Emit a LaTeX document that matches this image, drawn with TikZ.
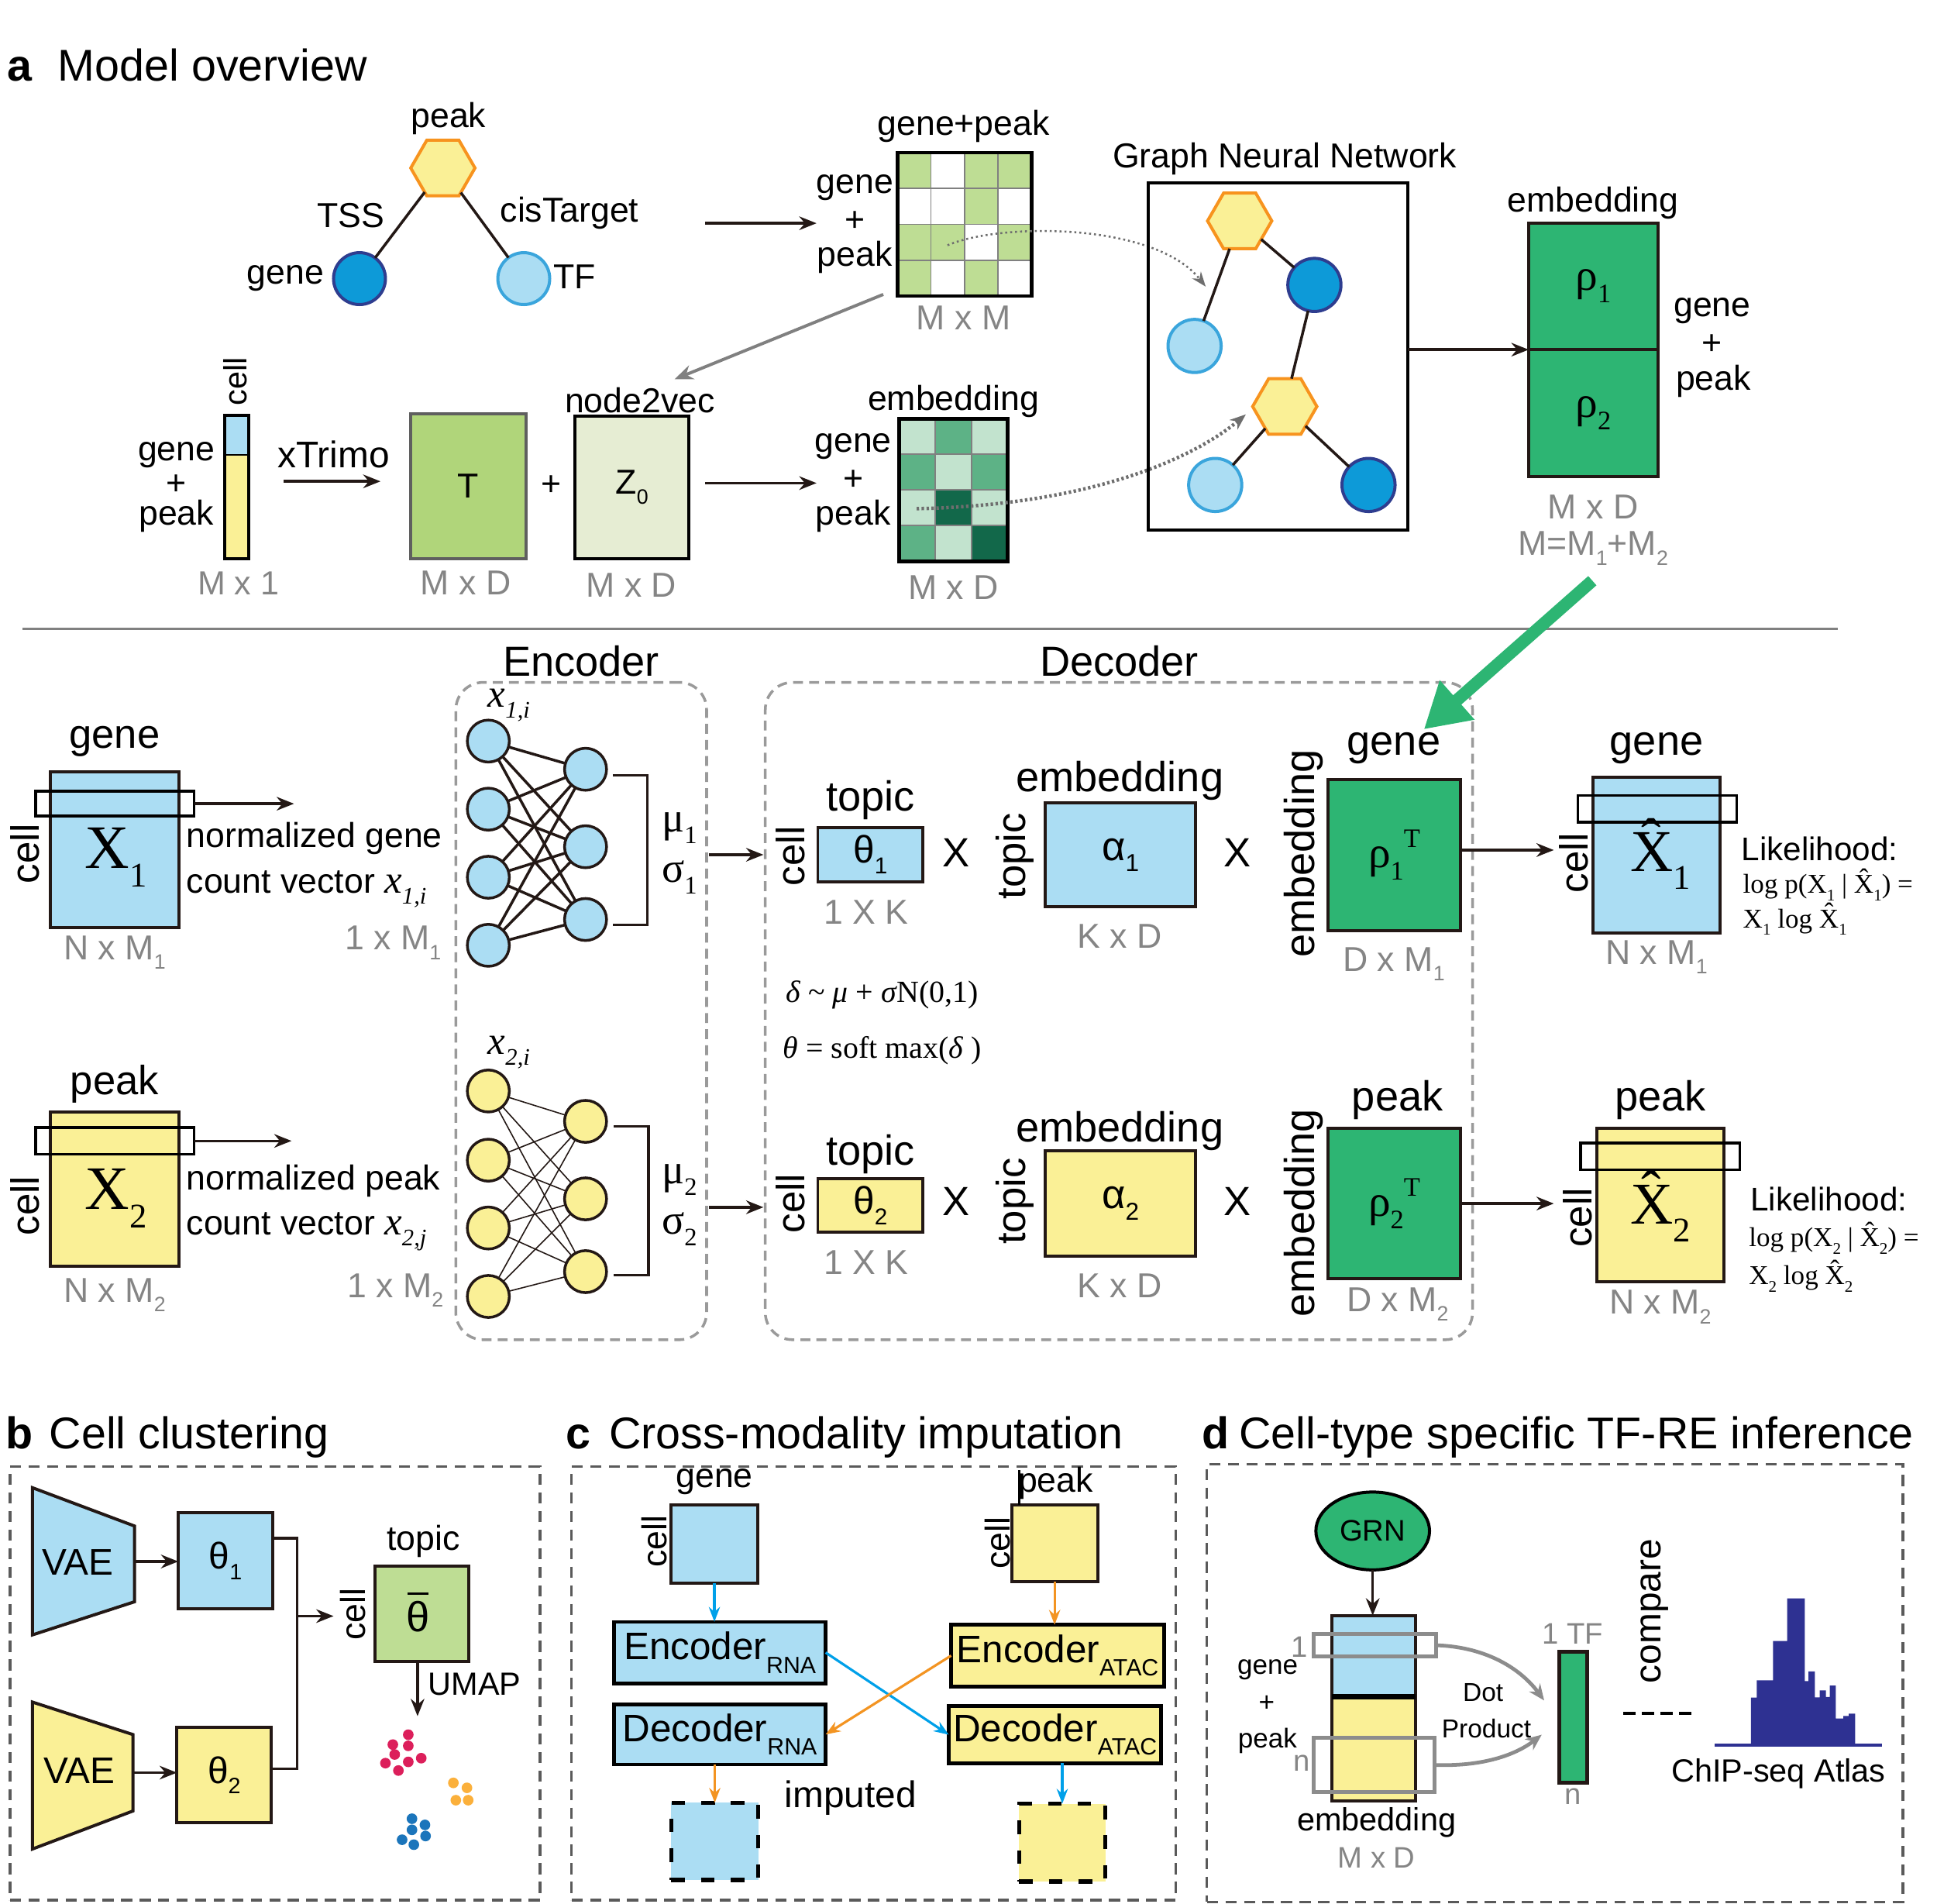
\documentclass[tikz,border=0pt]{standalone}
\usepackage{fontspec}
\usepackage{graphicx}
\setmainfont{Liberation Sans}
\newfontfamily\tms{Liberation Serif}
\usetikzlibrary{arrows.meta,shapes.geometric,calc}
\definecolor{lblue}{HTML}{ABDDF3}
\definecolor{lyel}{HTML}{FAF096}
\definecolor{dgreen}{HTML}{2DB573}
\definecolor{mgreen}{HTML}{BEDD94}
\definecolor{tgreen}{HTML}{B0D57A}
\definecolor{zgreen}{HTML}{E6EDD3}
\definecolor{nblue}{HTML}{0D9AD8}
\definecolor{nbluedk}{HTML}{2E3D8F}
\definecolor{nlstroke}{HTML}{3AA5DC}
\definecolor{hexor}{HTML}{F7931E}
\definecolor{gtxt}{HTML}{858585}
\definecolor{dk}{HTML}{231815}
\definecolor{cyanar}{HTML}{00A0E9}
\definecolor{orar}{HTML}{F39422}
\definecolor{emL}{HTML}{C2E3CE}
\definecolor{emM}{HTML}{5DB286}
\definecolor{emD}{HTML}{12684A}
\definecolor{histc}{HTML}{2E3192}
\definecolor{dotR}{HTML}{DC1F5B}
\definecolor{dotO}{HTML}{FBB03B}
\definecolor{dotB}{HTML}{1B75BB}
\definecolor{panelg}{HTML}{5A5A5A}
\definecolor{encg}{HTML}{9A9A9A}
\definecolor{ovg}{HTML}{8C8C8C}
\definecolor{tbord}{HTML}{5F5F5F}
\definecolor{dotg}{HTML}{6E6E6E}
\newcommand\fsz[1]{\fontsize{#1}{#1}\selectfont}
\newcommand\hX{\ooalign{X\cr\hidewidth\raisebox{0.2em}[0pt][0pt]{ˆ}\hidewidth\cr}}
\newcommand\tbar{\ooalign{θ\cr\hidewidth\raisebox{0.86em}[0pt][0pt]{\rule{0.5em}{0.07em}}\hidewidth\cr}}
\newcommand\sbs[1]{\raisebox{-0.28em}{\scalebox{0.6}{#1}}}
\begin{document}
\begin{tikzpicture}[x=1pt,y=-1pt,
  every node/.style={inner sep=0pt,outer sep=0pt},
  t/.style={font=\fsz{28}},
  gt/.style={font=\fsz{28},text=gtxt},
  bx/.style={draw=dk,line width=2.5pt},
  ar/.style={draw=dk,line width=2.2pt,-{Stealth[length=14pt,width=11pt]}},
  edge/.style={draw=dk,line width=2.2pt},
  hexn/.style={regular polygon,regular polygon sides=6,minimum size=52pt,draw=hexor,fill=lyel,line width=2.5pt},
  gnode/.style={circle,minimum size=42pt,fill=nblue,draw=nbluedk,line width=2.5pt},
  lnode/.style={circle,minimum size=42pt,fill=lblue,draw=nlstroke,line width=2.5pt},
  panel/.style={draw=panelg,line width=2.2pt,dash pattern=on 9pt off 6pt},
  encbox/.style={draw=encg,line width=2.2pt,dash pattern=on 8pt off 5pt,rounded corners=22pt},
  nn/.style={circle,minimum size=34pt,draw=dk,line width=2.2pt},
  rot/.style={rotate=90},
  gridl/.style={draw=gray,line width=1.2pt},
  car/.style={draw=cyanar,line width=2pt,-{Stealth[length=12pt,width=9pt]}},
  oar/.style={draw=orar,line width=2pt,-{Stealth[length=12pt,width=9pt]}},
]
\useasboundingbox (0,0) rectangle (1568,1541);

% ================= panel a top =================
\node[anchor=base west,font=\bfseries\fsz{36}] (ta) at (6,65.6) {a};
\node[anchor=base west,font=\fsz{36}] (tat) at (47,65.6) {Model overview};

\node[hexn] (pk) at (358.5,136) {};
\node[gnode] (g0) at (291,225.5) {};
\node[lnode] (tf0) at (424,225.5) {};
\draw[edge] (pk) -- (g0);
\draw[edge] (pk) -- (tf0);
\node[t] (lpk) at (363,96) {peak};
\node[t] (ltss) at (284,174.3) {TSS};
\node[t] (lcis) at (461,172.7) {cisTarget};
\node[t] (lgn) at (231,225.5) {gene};
\node[t] (ltf) at (465,224) {TF};
\coordinate (a1s) at (571,180.7);
\coordinate (a1e) at (661,180.7);
\draw[ar] (a1s) -- (a1e);

% M x M matrix
\foreach \c/\r in {0/0,2/0,3/0,2/1,0/2,1/2,3/2,0/3,2/3}
  \fill[mgreen] (726.4+\c*27.15,123.5+\r*29.03) rectangle ++(27.15,29.03);
\foreach \i in {1,2,3} {
  \draw[gridl] (726.4+\i*27.15,123.5) -- ++(0,116.1);
  \draw[gridl] (726.4,123.5+\i*29.03) -- ++(108.6,0);
}
\node[draw=black,line width=3pt,minimum width=108.6pt,minimum height=116.1pt] (mm) at (780.7,181.55) {};
\node[t] (lgp) at (780,102.5) {gene+peak};
\node[t] (lmg) at (692,152) {gene};
\node[t] (lmp) at (692.4,179) {+};
\node[t] (lmk) at (692,208) {peak};
\node[gt] (lmm) at (780,257.5) {M x M};

% dotted arrow to GNN
\coordinate (d1s) at (767,198.5);
\coordinate (d1e) at (976,232);
\draw[draw=dotg,line width=1.6pt,dash pattern=on 1.6pt off 2.4pt,-{Stealth[length=12pt,width=9pt]}] (d1s) .. controls (810,180) and (935,180) .. (d1e);

% gray arrow to node2vec
\coordinate (ga1) at (715,238.3);
\coordinate (ga2) at (546,307);
\draw[draw=gray,line width=2.5pt,-{Stealth[length=15pt,width=12pt]}] (ga1) -- (ga2);

% cell vector
\fill[lblue] (182,336) rectangle (201.6,368);
\fill[lyel] (182,368) rectangle (201.6,452);
\draw[line width=1.5pt] (182,368) -- (201.6,368);
\node[draw=black,line width=2.5pt,minimum width=19.6pt,minimum height=116pt] (cv) at (191.8,394) {};
\node[font=\fsz{26},rot] (lcv) at (190.4,308.7) {cell};
\node[t] (lcg) at (142.8,368) {gene};
\node[t] (lcp) at (142.8,392.5) {+};
\node[t] (lck) at (142.8,417.5) {peak};
\node[gt,font=\fsz{27}] (lm1) at (193,472) {M x 1};
\node[font=\fsz{30}] (lxt) at (270,368) {xTrimo};
\coordinate (a2s) at (229.6,389.6);
\coordinate (a2e) at (308,389.6);
\draw[ar] (a2s) -- (a2e);

\node[draw=tbord,line width=2.5pt,fill=tgreen,minimum width=93.5pt,minimum height=117pt,font=\fsz{28}] (Tb) at (379,393.5) {T};
\node[gt] (lTd) at (377,472) {M x D};
\node[t] (lpl) at (446.4,392.7) {+};
\node[draw=black,line width=2.5pt,fill=zgreen,minimum width=92.4pt,minimum height=116pt,font=\fsz{28}] (Zb) at (511.6,394.5) {Z\sbs{0}};
\node[t] (ln2v) at (518,323.7) {node2vec};
\node[gt] (lZd) at (511,473.4) {M x D};
\coordinate (a3s) at (571,391);
\coordinate (a3e) at (661,391);
\draw[ar] (a3s) -- (a3e);

% embedding matrix
\foreach \c/\r/\cc in {0/0/emL,1/0/emM,2/0/emL,0/1/emM,1/1/emL,2/1/emM,0/2/emL,1/2/emD,2/2/emL,0/3/emM,1/3/emL,2/3/emD}
  \fill[\cc] (728+\c*29.17,339+\r*28.8) rectangle ++(29.17,28.8);
\foreach \i in {1,2} \draw[gridl] (728+\i*29.17,339) -- ++(0,115.2);
\foreach \i in {1,2,3} \draw[gridl] (728,339+\i*28.8) -- ++(87.5,0);
\node[draw=black,line width=3pt,minimum width=87.5pt,minimum height=115.2pt] (em) at (771.75,396.6) {};
\node[t] (lemb) at (771.8,324.6) {embedding};
\node[t] (leg) at (690.6,361.4) {gene};
\node[t] (lep) at (690.6,388.6) {+};
\node[t] (lek) at (690.6,417.5) {peak};
\node[gt] (lemd) at (771.8,475.6) {M x D};

\coordinate (d2s) at (742,411.7);
\coordinate (d2e) at (1008.5,335.4);
\draw[draw=dotg,line width=2.8pt,dash pattern=on 2pt off 2pt,-{Stealth[length=13pt,width=10pt]}] (d2s) .. controls (880,409) and (965,372) .. (d2e);

% GNN
\node[draw=black,line width=2.5pt,minimum width=210pt,minimum height=280.7pt] (gnn) at (1034.6,288.4) {};
\node[t] (lgnn) at (1040,128.5) {Graph Neural Network};
\node[hexn] (h1) at (1003.5,178.8) {};
\node[gnode,minimum size=43pt] (c1) at (1064,230.6) {};
\node[lnode,minimum size=43pt] (c2) at (967,280) {};
\node[hexn] (h2) at (1040,329) {};
\node[lnode,minimum size=43pt] (c3) at (983.7,392.5) {};
\node[gnode,minimum size=43pt] (c4) at (1107.8,392.5) {};
\draw[edge] (h1) -- (c2);
\draw[edge] (h1) -- (c1);
\draw[edge] (c1) -- (h2);
\draw[edge] (h2) -- (c3);
\draw[edge] (h2) -- (c4);

% rho embedding
\node[bx,fill=dgreen,minimum width=104.5pt,minimum height=102.6pt,font=\tms\fsz{36}] (rho1) at (1289.7,231.7) {ρ\sbs{1}};
\node[bx,fill=dgreen,minimum width=104.5pt,minimum height=103pt,font=\tms\fsz{36}] (rho2) at (1289.7,334.5) {ρ\sbs{2}};
\draw[ar] (gnn.east |- rho1.south) -- (rho1.south west);
\node[t] (lre) at (1289.6,164.3) {embedding};
\node[t] (lrg) at (1386,251.4) {gene};
\node[t] (lrp) at (1386,278.7) {+};
\node[t] (lrk) at (1387,308.6) {peak};
\node[gt] (lrd) at (1289.6,410) {M x D};
\node[gt] (lrm) at (1289.6,443.8) {M=M\sbs{1}+M\sbs{2}};

% separator
\coordinate (sepL) at (18,509);
\coordinate (sepR) at (1488,509);
\draw[draw=gray,line width=2pt] (sepL) -- (sepR);

% ================= encoder / decoder =================
\node[font=\fsz{34}] (lenc) at (470.4,535.2) {Encoder};
\node[font=\fsz{34}] (ldec) at (906,535) {Decoder};
\node[encbox,minimum width=203pt,minimum height=532pt] (encb) at (470.5,818.3) {};
\node[encbox,minimum width=572.5pt,minimum height=532pt] (decb) at (905.75,818.3) {};

% X1
\node[bx,fill=lblue,minimum width=104pt,minimum height=126.2pt] (X1) at (92.8,687.6) {};
\node[font=\tms\fsz{50}] (X1t) at (94,694) {X\raisebox{-0.3em}{\fsz{28}1}};
\node[draw=black,line width=2.2pt,minimum width=128.4pt,minimum height=20.1pt] (X1o) at (93,650.5) {};
\coordinate (X1a) at (238,650.5);
\draw[ar] (X1o.east) -- (X1a);
\node[font=\fsz{33}] (lX1g) at (92.8,599.8) {gene};
\node[font=\fsz{32},rot] (lX1c) at (20,691) {cell};
\node[gt] (lX1d) at (92.8,770.8) {N x M\sbs{1}};
\node[t,anchor=west] (lng) at (151,678.5) {normalized gene};
\node[t,anchor=west] (lcg1) at (151,719.5) {count vector {\tms\itshape\fsz{32}x\sbs{1,i}}};
\node[gt,anchor=east] (l1m1) at (357,763.2) {1 x M\sbs{1}};

% X2
\node[bx,fill=lyel,minimum width=104pt,minimum height=124.6pt] (X2) at (92.8,962.3) {};
\node[font=\tms\fsz{50}] (X2t) at (94,970) {X\raisebox{-0.3em}{\fsz{28}2}};
\node[draw=black,line width=2.2pt,minimum width=128.4pt,minimum height=21.7pt] (X2o) at (93,923.4) {};
\coordinate (X2a) at (236,923.4);
\draw[ar] (X2o.east) -- (X2a);
\node[font=\fsz{33}] (lX2g) at (92.8,877.2) {peak};
\node[font=\fsz{32},rot] (lX2c) at (20,976) {cell};
\node[gt] (lX2d) at (92.8,1048.2) {N x M\sbs{2}};
\node[t,anchor=west] (lnp) at (151,956) {normalized peak};
\node[t,anchor=west] (lcg2) at (151,997) {count vector {\tms\itshape\fsz{32}x\sbs{2,j}}};
\node[gt,anchor=east] (l1m2) at (359,1044.4) {1 x M\sbs{2}};

% NN1
\foreach \i/\yy in {1/599.8,2/654.9,3/710,4/765.1}
  \node[nn,fill=lblue] (ea\i) at (395.3,\yy) {};
\foreach \j/\yy in {1/622.6,2/685.3,3/744.2}
  \node[nn,fill=lblue] (eb\j) at (474,\yy) {};
\foreach \i in {1,2,3,4} \foreach \j in {1,2,3}
  \draw[draw=dk,line width=2.2pt] (ea\i) -- (eb\j);
\node[font=\tms\itshape\fsz{32}] (lx1i) at (412,571) {x\sbs{1,i}};
\draw[draw=dk,line width=2pt] (496,627.5) -- (524,627.5) -- (524,748.8) -- (496,748.8);
\node[font=\tms\fsz{34}] (lmu1) at (550,670) {μ\sbs{1}};
\node[font=\tms\fsz{34}] (lsg1) at (550,710) {σ\sbs{1}};
\coordinate (e1s) at (574,691.8);
\coordinate (e1e) at (618,691.8);
\draw[ar] (e1s) -- (e1e);

% NN2
\foreach \i/\yy in {1/883,2/939,3/993.9,4/1049.3}
  \node[nn,fill=lyel] (fa\i) at (395.3,\yy) {};
\foreach \j/\yy in {1/907.6,2/970.3,3/1029.2}
  \node[nn,fill=lyel] (fb\j) at (474,\yy) {};
\foreach \i in {1,2,3,4} \foreach \j in {1,2,3}
  \draw[draw=dk,line width=1pt] (fa\i) -- (fb\j);
\node[font=\tms\itshape\fsz{32}] (lx2i) at (412,852) {x\sbs{2,i}};
\draw[draw=dk,line width=2pt] (497,911.4) -- (525,911.4) -- (525,1031.9) -- (497,1031.9);
\node[font=\tms\fsz{34}] (lmu2) at (550,955) {μ\sbs{2}};
\node[font=\tms\fsz{34}] (lsg2) at (550,995) {σ\sbs{2}};
\coordinate (e2s) at (574,977.1);
\coordinate (e2e) at (618,977.1);
\draw[ar] (e2s) -- (e2e);

% Decoder row 1
\node[bx,fill=lblue,minimum width=85pt,minimum height=43.3pt,font=\fsz{31}] (th1) at (704.5,691.8) {θ\sbs{1}};
\node[font=\fsz{34}] (lth1t) at (704.6,647.3) {topic};
\node[font=\fsz{32},rot] (lth1c) at (640,693) {cell};
\node[gt] (lth1d) at (701,738.5) {1 X K};
\node[font=\fsz{33}] (mx1) at (773.9,689.9) {X};
\node[bx,fill=lblue,minimum width=121.6pt,minimum height=84pt,font=\fsz{33}] (al1) at (907,692) {α\sbs{1}};
\node[font=\fsz{34}] (lal1e) at (906.4,632) {embedding};
\node[font=\fsz{33},rot] (lal1t) at (821.3,693) {topic};
\node[gt] (lal1d) at (906.4,757.5) {K x D};
\node[font=\fsz{33}] (mx2) at (1001.8,689.9) {X};
\node[bx,fill=dgreen,minimum width=107.6pt,minimum height=122pt,font=\tms\fsz{36}] (r1T) at (1128.6,692) {ρ\sbs{1}\raisebox{0.45em}{\scalebox{0.6}{T}}};
\node[font=\fsz{34}] (lr1g) at (1128.3,605.5) {gene};
\node[font=\fsz{34},rot] (lr1e) at (1055.3,691) {embedding};
\node[gt] (lr1d) at (1128.3,780.3) {D x M\sbs{1}};
\coordinate (o1e) at (1257.8,688);
\draw[ar] (r1T.east |- o1e) -- (o1e);
\node[bx,fill=lblue,minimum width=103.3pt,minimum height=125.8pt] (Xh1) at (1341,692) {};
\node[font=\tms\fsz{48}] (Xh1t) at (1344,697) {\hX\raisebox{-0.3em}{\fsz{28}1}};
\node[draw=black,line width=2.2pt,minimum width=128.8pt,minimum height=21.6pt] (Xh1o) at (1341.6,654.7) {};
\node[font=\fsz{34}] (lXh1g) at (1341,605.5) {gene};
\node[font=\fsz{32},rot] (lXh1c) at (1274.2,698.6) {cell};
\node[gt] (lXh1d) at (1341,774.6) {N x M\sbs{1}};
\node[font=\fsz{26.5},anchor=west] (lk1) at (1409.7,687.2) {Likelihood:};
\node[font=\tms\fsz{22},anchor=west] (lk1a) at (1411,718.6) {log p(X\sbs{1} | \hX\sbs{1}) =};
\node[font=\tms\fsz{22},anchor=west] (lk1b) at (1411,746.2) {X\sbs{1} log \hX\sbs{1}};

\node[font=\tms\fsz{25},anchor=west] (fd) at (636,805) {\textit{δ} \textasciitilde{} \textit{μ} + \textit{σ}N(0,1)};
\node[font=\tms\fsz{25},anchor=west] (ft) at (634,850.6) {\textit{θ} = soft max(\textit{δ} )};

% Decoder row 2
\node[bx,fill=lyel,minimum width=85pt,minimum height=43.3pt,font=\fsz{31}] (th2) at (704.5,975.6) {θ\sbs{2}};
\node[font=\fsz{34}] (lth2t) at (704.6,934.2) {topic};
\node[font=\fsz{32},rot] (lth2c) at (640,974) {cell};
\node[gt] (lth2d) at (701,1021.6) {1 X K};
\node[font=\fsz{33}] (mx3) at (773.9,972.2) {X};
\node[bx,fill=lyel,minimum width=121.6pt,minimum height=85.2pt,font=\fsz{33}] (al2) at (907,974) {α\sbs{2}};
\node[font=\fsz{34}] (lal2e) at (906.4,915.2) {embedding};
\node[font=\fsz{33},rot] (lal2t) at (821.3,972.2) {topic};
\node[gt] (lal2d) at (906.4,1040.6) {K x D};
\node[font=\fsz{33}] (mx4) at (1001.8,972.2) {X};
\node[bx,fill=dgreen,minimum width=107.6pt,minimum height=122pt,font=\tms\fsz{36}] (r2T) at (1128.6,974) {ρ\sbs{2}\raisebox{0.45em}{\scalebox{0.6}{T}}};
\node[font=\fsz{34}] (lr2g) at (1131.3,890.5) {peak};
\node[font=\fsz{34},rot] (lr2e) at (1055.3,981.7) {embedding};
\node[gt] (lr2d) at (1131.3,1055.8) {D x M\sbs{2}};
\coordinate (o2e) at (1257.8,974.1);
\draw[ar] (r2T.east |- o2e) -- (o2e);
\node[bx,fill=lyel,minimum width=103.4pt,minimum height=124.6pt] (Xh2) at (1344.1,975.3) {};
\node[font=\tms\fsz{48}] (Xh2t) at (1344,982) {\hX\raisebox{-0.3em}{\fsz{28}2}};
\node[draw=black,line width=2.2pt,minimum width=128.9pt,minimum height=21.6pt] (Xh2o) at (1344,935.9) {};
\node[font=\fsz{34}] (lXh2g) at (1344,890.5) {peak};
\node[font=\fsz{32},rot] (lXh2c) at (1277.2,985.5) {cell};
\node[gt] (lXh2d) at (1344,1057.7) {N x M\sbs{2}};
\node[font=\fsz{26.5},anchor=west] (lk2) at (1417,970.3) {Likelihood:};
\node[font=\tms\fsz{22},anchor=west] (lk2a) at (1415.8,1004.5) {log p(X\sbs{2} | \hX\sbs{2}) =};
\node[font=\tms\fsz{22},anchor=west] (lk2b) at (1415.8,1035) {X\sbs{2} log \hX\sbs{2}};

% big green arrow
\coordinate (gaS) at (1289,470);
\coordinate (gaE) at (1152.6,590.3);
\draw[draw=dgreen,line width=10pt,-{Triangle[length=36pt,width=40pt]}] (gaS) -- (gaE);

% ================= panel b =================
\node[anchor=base west,font=\bfseries\fsz{36}] (tb) at (5,1172.6) {b};
\node[anchor=base west,font=\fsz{36}] (tbt) at (40,1172.6) {Cell clustering};
\node[panel,minimum width=429pt,minimum height=351pt] (pb) at (222.5,1362.5) {};
\draw[bx,fill=lblue] (26.3,1204.1) -- (108.9,1235.1) -- (108.9,1296.4) -- (26.3,1323.2) -- cycle;
\draw[bx,fill=lyel] (26.3,1377.6) -- (107.7,1403.9) -- (107.7,1465.7) -- (26.3,1496.5) -- cycle;
\node[font=\fsz{30}] (vae1) at (63,1264.6) {VAE};
\node[font=\fsz{30}] (vae2) at (64.3,1432.9) {VAE};
\node[bx,fill=lblue,minimum width=76.5pt,minimum height=77.3pt,font=\fsz{30}] (tb1) at (182.6,1263.2) {θ\sbs{1}};
\node[bx,fill=lyel,minimum width=76.5pt,minimum height=77.5pt,font=\fsz{30}] (tb2) at (181.5,1436.6) {θ\sbs{2}};
\coordinate (v1r) at (108.9,1263.8);
\coordinate (v2r) at (107.7,1434.7);
\draw[ar] (v1r) -- (tb1.west |- v1r);
\draw[ar] (v2r) -- (tb2.west |- v2r);
\coordinate (jn1) at (240.5,1244.9);
\coordinate (jn2) at (240.5,1431.5);
\draw[draw=dk,line width=2.2pt] (tb1.east |- jn1) -- (jn1) -- (jn2) -- (tb2.east |- jn2);
\coordinate (jn3) at (240.5,1308);
\coordinate (jn4) at (270,1308);
\draw[ar] (jn3) -- (jn4);
\node[bx,fill=mgreen,minimum width=75.8pt,minimum height=77pt] (thb) at (341.5,1306.3) {};
\node[font=\fsz{34}] (thbt) at (338.4,1308) {\tbar};
\node[t] (lthbt) at (342.7,1247.5) {topic};
\node[t,rot] (lthbc) at (285.8,1306.7) {cell};
\coordinate (umE) at (338,1389);
\draw[ar] (thb.south -| umE) -- (umE);
\node[font=\fsz{26}] (lum) at (384.3,1363.2) {UMAP};
\foreach \p in {(330.5,1404),(318,1412),(330.5,1413),(319.5,1420),(341,1423),(312,1427),(330.5,1426),(322.5,1433)}
  \fill[dotR] \p circle[radius=4.3pt];
\foreach \p in {(367,1443),(378,1447),(369,1457),(379,1457)}
  \fill[dotO] \p circle[radius=4.3pt];
\foreach \p in {(333.5,1472),(344,1477),(333.5,1481),(344.5,1486),(325.5,1489),(335,1493)}
  \fill[dotB] \p circle[radius=4.3pt];

% ================= panel c =================
\node[anchor=base west,font=\bfseries\fsz{36}] (tc) at (458,1172.6) {c};
\node[anchor=base west,font=\fsz{36}] (tct) at (493,1172.6) {Cross-modality imputation};
\node[panel,minimum width=489pt,minimum height=351pt] (pc) at (707.2,1362.5) {};
\node[bx,fill=lblue,minimum width=69.7pt,minimum height=63.4pt] (cg) at (578.3,1249.5) {};
\node[t] (lcgg) at (578.3,1199) {gene};
\node[t,rot] (lcgc) at (529.4,1247.5) {cell};
\node[bx,fill=lyel,minimum width=69.7pt,minimum height=62.6pt] (cp) at (853.7,1249.1) {};
\node[t] (lcpp) at (854.5,1200.5) {peak};
\node[t,rot] (lcpc) at (807.8,1248.8) {cell};
\draw[draw=black,line width=1.5pt] (825,1189.7) -- (825,1217.8);
\node[draw=black,line width=3pt,fill=lblue,minimum width=171.3pt,minimum height=49.7pt,font=\fsz{31}] (encR) at (582.7,1337.5) {Encoder\raisebox{-0.35em}{\fsz{19}RNA}};
\node[draw=black,line width=3pt,fill=lblue,minimum width=171.3pt,minimum height=48.6pt,font=\fsz{31}] (decR) at (582.7,1403.8) {Decoder\raisebox{-0.35em}{\fsz{19}RNA}};
\node[draw=black,line width=3pt,fill=lyel,minimum width=172.6pt,minimum height=50pt,font=\fsz{31}] (encA) at (856.2,1340) {Encoder\raisebox{-0.35em}{\fsz{19}ATAC}};
\node[draw=black,line width=3pt,fill=lyel,minimum width=172pt,minimum height=46.3pt,font=\fsz{31}] (decA) at (854,1404) {Decoder\raisebox{-0.35em}{\fsz{19}ATAC}};
\node[draw=black,line width=3.5pt,dash pattern=on 11pt off 13pt,fill=lblue,minimum width=70.3pt,minimum height=62.6pt] (imp1) at (578.6,1490.4) {};
\node[draw=black,line width=3.5pt,dash pattern=on 11pt off 13pt,fill=lyel,minimum width=69.7pt,minimum height=62.9pt] (imp2) at (859.9,1491.3) {};
\node[font=\fsz{30}] (limp) at (688.5,1455.2) {imputed};
\draw[car] (cg.south) -- (cg.south |- encR.north);
\draw[oar] (cp.south) -- (cp.south |- encA.north);
\draw[car] (encR.east) -- (decA.west);
\draw[oar] (encA.west) -- (decR.east);
\draw[oar] (decR.south -| imp1.north) -- (imp1.north);
\draw[car] (decA.south -| imp2.north) -- (imp2.north);

% ================= panel d =================
\node[anchor=base west,font=\bfseries\fsz{36}] (td) at (973,1172.6) {d};
\node[anchor=base west,font=\fsz{36}] (tdt) at (1003,1172.6) {Cell-type specific TF-RE inference};
\node[panel,minimum width=563.4pt,minimum height=354.3pt] (pd) at (1258.7,1362.2) {};
\node[ellipse,draw=black,line width=2.5pt,fill=dgreen,minimum width=92pt,minimum height=63pt,font=\fsz{24}] (grn) at (1111.2,1239.1) {GRN};
\node[bx,fill=lblue,minimum width=67.4pt,minimum height=65.7pt] (embT) at (1112,1340.4) {};
\node[bx,fill=lyel,minimum width=67.4pt,minimum height=84.1pt] (embB) at (1112,1415.3) {};
\draw[draw=black,line width=4.5pt] (embT.south west) -- (embT.south east);
\draw[ar] (grn.south) -- (grn.south |- embT.north);
\node[draw=ovg,line width=3pt,minimum width=99pt,minimum height=18.4pt] (ovT) at (1113,1331.6) {};
\node[draw=ovg,line width=3pt,minimum width=98pt,minimum height=43.9pt] (ovB) at (1112.4,1428.5) {};
\node[font=\fsz{24},text=gtxt] (l1d) at (1051.6,1333) {1};
\node[font=\fsz{24},text=gtxt] (lnd) at (1053.6,1427) {n};
\node[font=\fsz{22}] (ldg) at (1026.1,1351.4) {gene};
\node[font=\fsz{22}] (ldp) at (1025.3,1379) {+};
\node[font=\fsz{22}] (ldk) at (1026.1,1409.2) {peak};
\node[bx,fill=dgreen,line width=3pt,minimum width=22.7pt,minimum height=105.9pt] (tfb) at (1273.5,1389.9) {};
\coordinate (dpA) at (1250,1376.3);
\coordinate (dpB) at (1248,1404);
\draw[draw=ovg,line width=3pt,-{Stealth[length=13pt,width=11pt]}] (ovT.east) .. controls (1205,1333) and (1232,1352) .. (dpA);
\draw[draw=ovg,line width=3pt,-{Stealth[length=13pt,width=11pt]}] (ovB.east) .. controls (1205,1430) and (1230,1418) .. (dpB);
\node[font=\fsz{21}] (ldot) at (1200.6,1369.8) {Dot};
\node[font=\fsz{21}] (lprod) at (1203.3,1398.7) {Product};
\node[font=\fsz{24},text=gtxt] (l1tf) at (1273,1322.4) {1 TF};
\node[font=\fsz{24},text=gtxt] (lntf) at (1273,1454) {n};
\node[font=\fsz{30},rot] (lcmp) at (1339.7,1304) {compare};
\coordinate (cdl) at (1314.2,1386.9);
\coordinate (cdr) at (1369.1,1386.9);
\draw[draw=black,line width=2.5pt,dash pattern=on 10pt off 5pt] (cdl) -- (cdr);
\fill[histc] (1417.4,1412.6) -- (1417.4,1374.0) -- (1422.0,1374.0) -- (1422.0,1360.0) -- (1435.2,1360.0) -- (1435.2,1328.2) -- (1446.7,1328.2) -- (1446.7,1293.7) -- (1460.9,1293.7) -- (1460.9,1360.6) -- (1463.9,1360.6) -- (1463.9,1352.8) -- (1469.1,1352.8) -- (1469.1,1373.8) -- (1473.1,1373.8) -- (1473.1,1368.1) -- (1478.1,1368.1) -- (1478.1,1373.5) -- (1481.2,1373.5) -- (1481.2,1364.3) -- (1486.0,1364.3) -- (1486.0,1390.9) -- (1492.1,1390.9) -- (1492.1,1388.8) -- (1496.5,1388.8) -- (1496.5,1387.0) -- (1501.7,1387.0) -- (1501.7,1412.6) -- cycle;
\draw[draw=histc,line width=2.7pt] (1388.2,1412.6) -- (1523.7,1412.6);
\node[font=\fsz{26}] (lchip) at (1439.7,1435.5) {ChIP-seq Atlas};
\node[font=\fsz{26}] (ldemb) at (1114.3,1474.9) {embedding};
\node[font=\fsz{24},text=gtxt] (ldmd) at (1114.3,1503.8) {M x D};

\end{tikzpicture}
\end{document}
